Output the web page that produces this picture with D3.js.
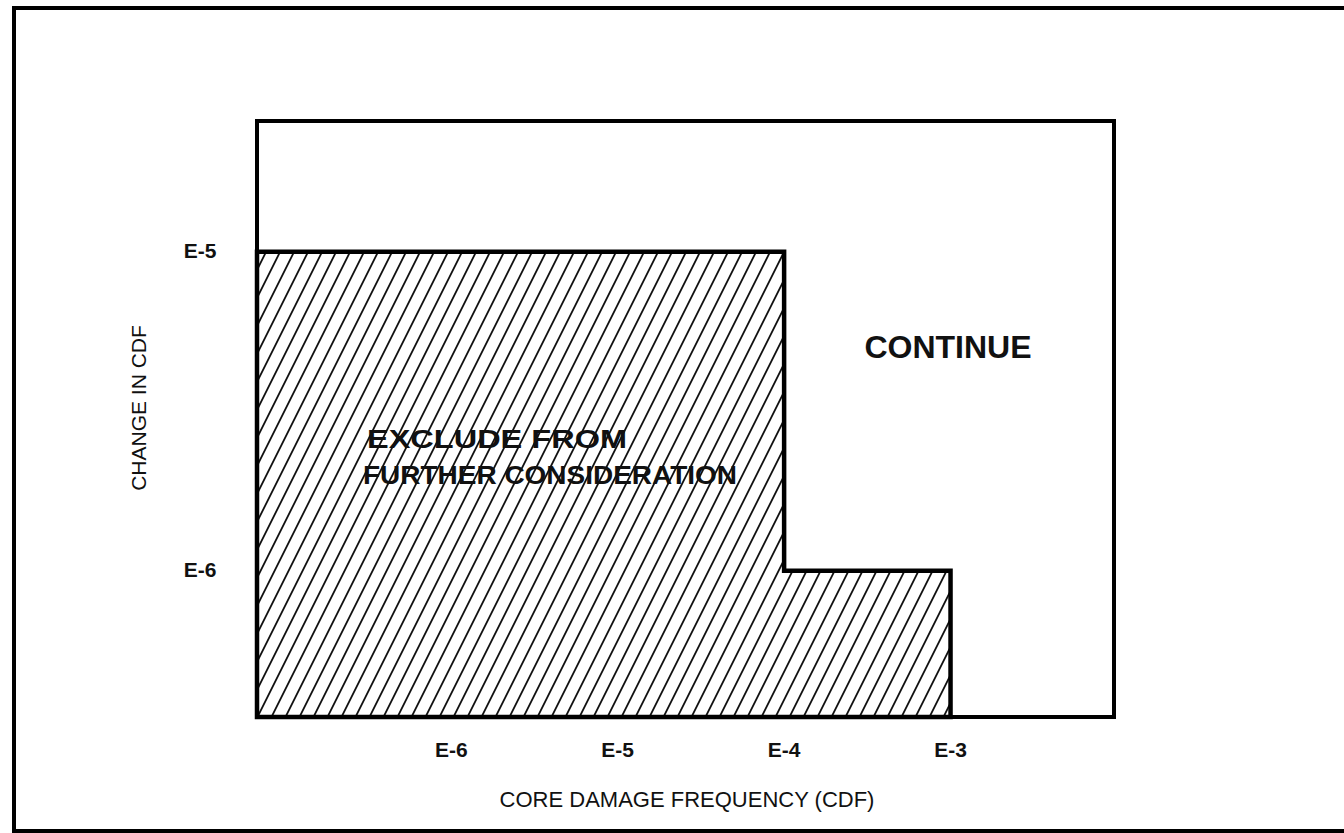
<!DOCTYPE html>
<meta charset="utf-8">
<style> /* set the CSS */

html, body { margin: 0; padding: 0; overflow: hidden; background: #fff; font-family: "Liberation Sans", Arial, Helvetica, sans-serif; }

svg { display: block; }

.frame { fill: none; stroke: #000; stroke-width: 4; }

.plotbox { fill: none; stroke: #000; stroke-width: 4; }

.region { fill: url(#hatch); stroke: #000; stroke-width: 4.5; stroke-linejoin: miter; }

.tick-label { font-size: 21px; font-weight: bold; fill: #111; }

.axis-title { font-size: 22px; fill: #111; }

.region-label { font-size: 25px; font-weight: bold; fill: #111; }

</style>
<body>

<script src="https://cdn.jsdelivr.net/npm/d3@7"></script>

<script>

// tick values (log10 decades) and their labels
var xTicks = [1e-6, 1e-5, 1e-4, 1e-3];
var xTickLabels = ["E-6", "E-5", "E-4", "E-3"];
var yTicks = [1e-5, 1e-6];
var yTickLabels = ["E-5", "E-6"];

// limits of the exclusion region: cdf upper bound and allowed change in cdf
var stepCdf = [1e-4, 1e-3];
var stepDelta = [1e-5, 1e-6];

// axis extents
var xDomain = [6.8e-8, 9.6e-3];
var yDomain = [3.48e-7, 2.57e-5];

var regionLabel = ["EXCLUDE FROM", "FURTHER CONSIDERATION"];
var continueLabel = "CONTINUE";

// Set the dimensions of the canvas / graph
var W = 1344, H = 833;
var box = {left: 257, top: 121, right: 1114, bottom: 717};

var x_scale = d3.scaleLog().domain(xDomain).range([box.left, box.right]);
var y_scale = d3.scaleLog().domain(yDomain).range([box.bottom, box.top]);

var svg = d3.select("body")
    .append("svg")
        .attr("width", W)
        .attr("height", H);

// hatch pattern, lines at tan = 2, 14px apart horizontally
var defs = svg.append("defs");
var pat = defs.append("pattern")
    .attr("id", "hatch")
    .attr("patternUnits", "userSpaceOnUse")
    .attr("width", 14)
    .attr("height", 28);
pat.append("path")
    .attr("d", "M0,28 L14,0 M-1,2 L1,-2 M13,30 L15,26")
    .attr("stroke", "#111")
    .attr("stroke-width", 1.8)
    .attr("fill", "none");

// outer frame of the figure (right side runs off the page)
svg.append("path")
    .attr("class", "frame")
    .attr("d", "M1380,8 L14,8 L14,831 L1380,831");

// the exclusion region (step shape)
var pts = [
    [xDomain[0], yDomain[0]],
    [xDomain[0], stepDelta[0]],
    [stepCdf[0], stepDelta[0]],
    [stepCdf[0], stepDelta[1]],
    [stepCdf[1], stepDelta[1]],
    [stepCdf[1], yDomain[0]]
];
var line = d3.line()
    .x(function(d) { return x_scale(d[0]); })
    .y(function(d) { return y_scale(d[1]); });

svg.append("path")
    .attr("class", "region")
    .attr("d", line(pts) + "Z");

// plot box
svg.append("rect")
    .attr("class", "plotbox")
    .attr("x", box.left)
    .attr("y", box.top)
    .attr("width", box.right - box.left)
    .attr("height", box.bottom - box.top);

// x tick labels
svg.selectAll(".xtick")
    .data(xTicks)
  .enter().append("text")
    .attr("class", "tick-label xtick")
    .attr("x", function(d) { return x_scale(d); })
    .attr("y", 757)
    .attr("text-anchor", "middle")
    .text(function(d, i) { return xTickLabels[i]; });

// y tick labels
svg.selectAll(".ytick")
    .data(yTicks)
  .enter().append("text")
    .attr("class", "tick-label ytick")
    .attr("x", 200)
    .attr("y", function(d) { return y_scale(d) + 6; })
    .attr("text-anchor", "middle")
    .text(function(d, i) { return yTickLabels[i]; });

// axis titles
svg.append("text")
    .attr("class", "axis-title")
    .attr("x", 687)
    .attr("y", 807)
    .attr("text-anchor", "middle")
    .text("CORE DAMAGE FREQUENCY (CDF)");

svg.append("text")
    .attr("class", "axis-title")
    .attr("transform", "translate(146,408) rotate(-90)")
    .attr("text-anchor", "middle")
    .style("font-size", "21px")
    .text("CHANGE IN CDF");

// region labels, stretched wide like the original lettering
var lab = svg.append("g");
lab.append("text")
    .attr("class", "region-label")
    .attr("x", 367).attr("y", 448)
    .attr("textLength", 260)
    .attr("lengthAdjust", "spacingAndGlyphs")
    .text(regionLabel[0]);
lab.append("text")
    .attr("class", "region-label")
    .attr("x", 363).attr("y", 484)
    .attr("textLength", 374)
    .attr("lengthAdjust", "spacingAndGlyphs")
    .text(regionLabel[1]);

svg.append("text")
    .attr("x", 948)
    .attr("y", 358)
    .attr("text-anchor", "middle")
    .style("font-size", "32px")
    .style("font-weight", "bold")
    .style("fill", "#111")
    .text(continueLabel);

</script>
</body>
